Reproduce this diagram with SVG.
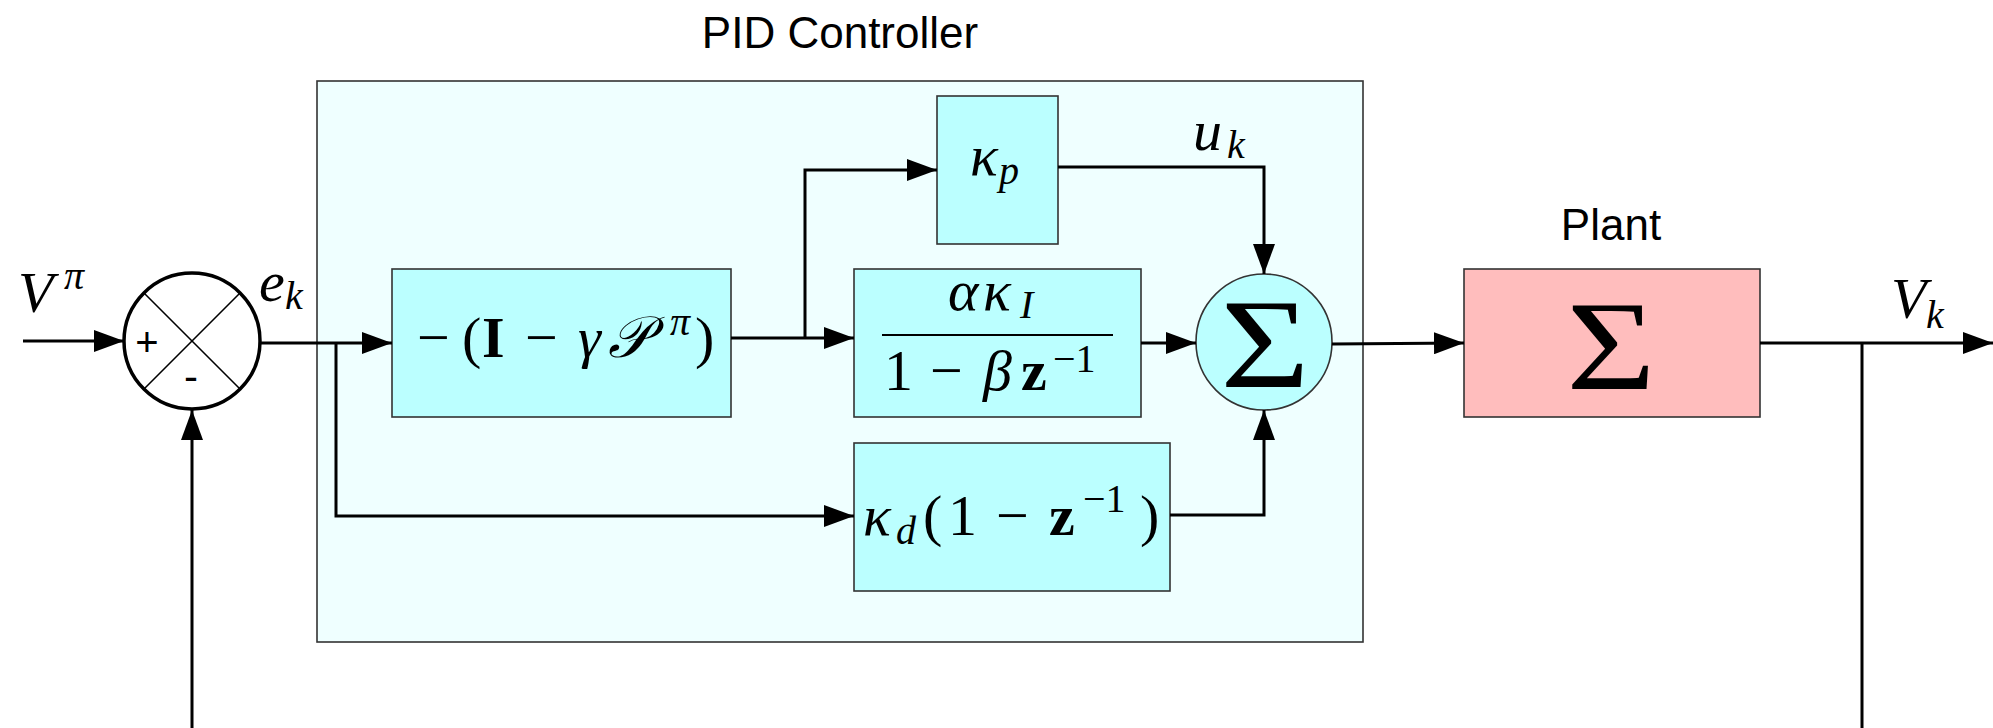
<svg xmlns="http://www.w3.org/2000/svg" width="1993" height="728" viewBox="0 0 1993 728">
<defs>
<style>
.lbl{font-family:"Liberation Sans","Helvetica",Arial,sans-serif;font-size:44px;fill:#000}
.m{font-family:"Liberation Serif","DejaVu Serif",serif;font-size:58px;fill:#000}
.i{font-style:italic}
.b{font-weight:bold}
.s{font-size:40px}
.blk{fill:#bbffff;stroke:#333;stroke-width:1.6}
.wire{fill:none;stroke:#000;stroke-width:3;stroke-linejoin:miter}
.arr{marker-end:url(#ah)}
</style>
<marker id="ah" markerUnits="userSpaceOnUse" markerWidth="30" markerHeight="22" refX="30" refY="11" orient="auto" viewBox="0 0 30 22">
<path d="M0,0 L30,11 L0,22 z" fill="#000"/>
</marker>
</defs>
<rect width="1993" height="728" fill="#fff"/>

<g id="pid-controller">
<rect x="317" y="81" width="1046" height="561" fill="#efffff" stroke="#333" stroke-width="1.6"/>
<text class="lbl" x="840" y="48" text-anchor="middle">PID Controller</text>
</g>

<g id="error-junction">
<circle cx="192" cy="341" r="68" fill="#fff" stroke="#000" stroke-width="3.5"/>
<line x1="144" y1="293" x2="240" y2="389" stroke="#000" stroke-width="1.6"/>
<line x1="240" y1="293" x2="144" y2="389" stroke="#000" stroke-width="1.6"/>
<text class="lbl" x="147" y="356" text-anchor="middle" style="font-size:40px">+</text>
<text class="lbl" x="191" y="391" text-anchor="middle" style="font-size:42px">-</text>
</g>

<g id="gain-block">
<rect class="blk" x="392" y="269" width="339" height="148"/>
<text class="m" y="357"><tspan x="417">−</tspan><tspan x="462">(</tspan><tspan class="b" x="482">I</tspan><tspan x="525">−</tspan><tspan class="i" x="578">γ</tspan><tspan class="i" x="608">𝒫</tspan><tspan class="i s" x="670" y="335">π</tspan><tspan x="695" y="357">)</tspan></text>
</g>

<g id="kp-block">
<rect class="blk" x="937" y="96" width="121" height="148"/>
<text class="m" y="175"><tspan class="i" x="970">κ</tspan><tspan class="i s" x="999" y="184">p</tspan></text>
</g>

<g id="ki-block">
<rect class="blk" x="854" y="269" width="287" height="148"/>
<text class="m" y="310"><tspan class="i" x="948">α</tspan><tspan class="i" x="983">κ</tspan><tspan class="i s" x="1020" y="318">I</tspan></text>
<line x1="882" y1="335" x2="1113" y2="335" stroke="#000" stroke-width="2.2"/>
<text class="m" y="390"><tspan x="884">1</tspan><tspan x="930">−</tspan><tspan class="i" x="983">β</tspan><tspan class="b" x="1021">z</tspan><tspan class="s" x="1053" y="372">−1</tspan></text>
</g>

<g id="kd-block">
<rect class="blk" x="854" y="443" width="316" height="148"/>
<text class="m" y="535"><tspan class="i" x="863">κ</tspan><tspan class="i s" x="896" y="544">d</tspan><tspan x="923" y="535">(</tspan><tspan x="948">1</tspan><tspan x="996">−</tspan><tspan class="b" x="1049">z</tspan><tspan class="s" x="1083" y="512">−1</tspan><tspan x="1140" y="535">)</tspan></text>
</g>

<g id="pid-sum">
<circle cx="1264" cy="342" r="68" fill="#bbffff" stroke="#333" stroke-width="1.6"/>
<text class="m" transform="translate(1265,387) scale(1.2,1)" x="0" y="0" text-anchor="middle" style="font-size:128px">Σ</text>
</g>

<g id="plant">
<rect x="1464" y="269" width="296" height="148" fill="#ffbdbd" stroke="#333" stroke-width="1.6"/>
<text class="lbl" x="1611" y="240" text-anchor="middle">Plant</text>
<text class="m" transform="translate(1611,389) scale(1.2,1)" x="0" y="0" text-anchor="middle" style="font-size:128px">Σ</text>
</g>

<g id="labels">
<text class="m" y="312"><tspan class="i" x="18">V</tspan><tspan class="i s" x="64" y="289">π</tspan></text>
<text class="m" y="301"><tspan class="i" x="259">e</tspan><tspan class="i s" x="285" y="309">k</tspan></text>
<text class="m" y="150"><tspan class="i" x="1193">u</tspan><tspan class="i s" x="1227" y="158">k</tspan></text>
<text class="m" y="318"><tspan class="i" x="1891">V</tspan><tspan class="i s" x="1926" y="328">k</tspan></text>
</g>

<g id="connectors">
<line class="wire arr" x1="23" y1="341" x2="124" y2="341"/>
<polyline class="wire arr" points="192,728 192,410"/>
<line class="wire arr" x1="261" y1="343" x2="392" y2="343"/>
<polyline class="wire arr" points="336,343 336,516 854,516"/>
<line class="wire arr" x1="731" y1="338" x2="854" y2="338"/>
<polyline class="wire arr" points="805,338 805,170 937,170"/>
<polyline class="wire arr" points="1058,167 1264,167 1264,274"/>
<line class="wire arr" x1="1141" y1="343" x2="1196" y2="343"/>
<polyline class="wire arr" points="1170,515 1264,515 1264,410"/>
<line class="wire arr" x1="1332" y1="344" x2="1464" y2="343"/>
<line class="wire arr" x1="1760" y1="343" x2="1993" y2="343"/>
<polyline class="wire" points="1862,343 1862,728"/>
</g>
</svg>
